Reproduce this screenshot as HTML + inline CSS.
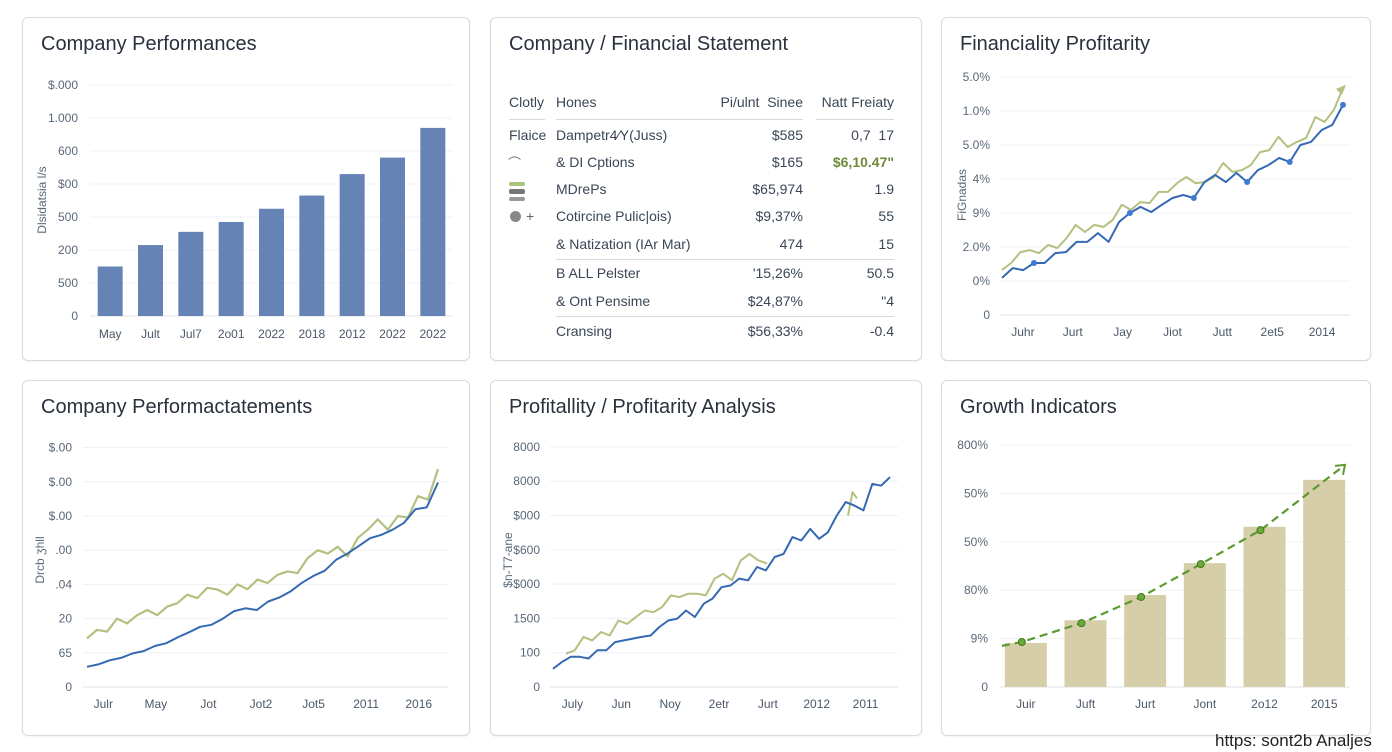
<!DOCTYPE html>
<html><head><meta charset="utf-8">
<style>
html,body{margin:0;padding:0;background:#fff;width:1392px;height:752px;overflow:hidden;font-family:"Liberation Sans",sans-serif;}
.panel{position:absolute;border:1px solid #d6dbe1;border-radius:6px;background:#fff;box-shadow:0 1px 2px rgba(0,0,0,0.05);box-sizing:border-box;}
.title{position:absolute;font-size:20px;color:#28313d;white-space:nowrap;}
.t{position:absolute;font-size:14px;color:#3a4656;white-space:nowrap;}
.r{text-align:right;}
.hl{position:absolute;height:1px;background:#d4d9df;}
#chart{position:absolute;left:0;top:0;}
</style></head><body>
<div class="panel" style="left:22px;top:17px;width:448px;height:344px"></div>
<div class="panel" style="left:490px;top:17px;width:432px;height:344px"></div>
<div class="panel" style="left:941px;top:17px;width:430px;height:344px"></div>
<div class="panel" style="left:22px;top:380px;width:448px;height:356px"></div>
<div class="panel" style="left:490px;top:380px;width:432px;height:356px"></div>
<div class="panel" style="left:941px;top:380px;width:430px;height:356px"></div>

<div class="title" style="left:41px;top:33px">Company Performances</div>
<div class="title" style="left:509px;top:33px">Company / Financial Statement</div>
<div class="title" style="left:960px;top:33px">Financiality Profitarity</div>
<div class="title" style="left:41px;top:396px">Company Performactatements</div>
<div class="title" style="left:509px;top:396px">Profitallity / Profitarity Analysis</div>
<div class="title" style="left:960px;top:396px">Growth Indicators</div>

<!-- table -->
<div>
<div class="t" style="left:509px;top:94px">Clotly</div>
<div class="t" style="left:556px;top:94px">Hones</div>
<div class="t r" style="left:690px;width:113px;top:94px">Pi/ulnt &nbsp;Sinee</div>
<div class="t r" style="left:800px;width:94px;top:94px">Natt Freiaty</div>
<div class="hl" style="left:509px;top:119px;width:36px"></div>
<div class="hl" style="left:556px;top:119px;width:247px"></div>
<div class="hl" style="left:816px;top:119px;width:78px"></div>

<div class="t" style="left:509px;top:127px">Flaice</div>
<div class="t" style="left:556px;top:127px">Dampetr4⁄Y(Juss)</div>
<div class="t r" style="left:700px;width:103px;top:127px">$585</div>
<div class="t r" style="left:800px;width:94px;top:127px">0,7 &nbsp;17</div>

<div class="t" style="left:508px;top:153px;color:#777;font-size:13px">⌒</div>
<div class="t" style="left:556px;top:154px">&amp; DI Cptions</div>
<div class="t r" style="left:700px;width:103px;top:154px">$165</div>
<div class="t r" style="left:800px;width:94px;top:154px;color:#6f8a3a;font-weight:bold">$6,10.47"</div>

<div style="position:absolute;left:509px;top:182px;width:16px;height:4px;border-radius:2px;background:#a8c47a"></div>
<div style="position:absolute;left:509px;top:189px;width:16px;height:5px;border-radius:2px;background:#777"></div>
<div style="position:absolute;left:509px;top:197px;width:16px;height:4px;border-radius:2px;background:#999"></div>
<div class="t" style="left:556px;top:181px">MDrePs</div>
<div class="t r" style="left:700px;width:103px;top:181px">$65,974</div>
<div class="t r" style="left:800px;width:94px;top:181px">1.9</div>

<div style="position:absolute;left:510px;top:211px;width:11px;height:11px;border-radius:50%;background:#888"></div>
<div class="t" style="left:526px;top:208px;color:#666">+</div>
<div class="t" style="left:556px;top:208px">Cotircine Pulic|ois)</div>
<div class="t r" style="left:700px;width:103px;top:208px">$9,37%</div>
<div class="t r" style="left:800px;width:94px;top:208px">55</div>

<div class="t" style="left:556px;top:236px">&amp; Natization (IAr Mar)</div>
<div class="t r" style="left:700px;width:103px;top:236px">474</div>
<div class="t r" style="left:800px;width:94px;top:236px">15</div>
<div class="hl" style="left:556px;top:259px;width:338px"></div>

<div class="t" style="left:556px;top:265px">B ALL Pelster</div>
<div class="t r" style="left:700px;width:103px;top:265px">'15,26%</div>
<div class="t r" style="left:800px;width:94px;top:265px">50.5</div>

<div class="t" style="left:556px;top:293px">&amp; Ont Pensime</div>
<div class="t r" style="left:700px;width:103px;top:293px">$24,87%</div>
<div class="t r" style="left:800px;width:94px;top:293px">"4</div>
<div class="hl" style="left:556px;top:316px;width:338px"></div>

<div class="t" style="left:556px;top:323px">Cransing</div>
<div class="t r" style="left:700px;width:103px;top:323px">$56,33%</div>
<div class="t r" style="left:800px;width:94px;top:323px">-0.4</div>
</div>

<div style="position:absolute;left:1215px;top:731px;font-size:17px;color:#222;white-space:nowrap">https: sont2b Analjes</div>

<svg id="chart" width="1392" height="752" xmlns="http://www.w3.org/2000/svg" font-family="Liberation Sans, sans-serif"></svg>

<script>
// ---- Chart 1: bars ----
const c1Cats = ["May","Jult","Jul7","2o01","2022","2018","2012","2022","2022"];
const c1Vals = [1.5,2.15,2.55,2.85,3.25,3.65,4.3,4.8,5.7];
const c1Ticks = ["0","500","200","500","$00","600","1.000","$.000"];
// ---- Chart 3: two lines ----
const c3Ticks = ["0","0%","2.0%","9%","4%","5.0%","1.0%","5.0%"];
const c3X = ["Juhr","Jurt","Jay","Jiot","Jutt","2et5","2014"];
const c3Blue = [1.09,1.38,1.32,1.53,1.53,1.82,1.85,2.15,2.15,2.41,2.15,2.74,3.0,3.18,3.03,3.24,3.44,3.53,3.44,3.91,4.12,3.91,4.18,3.91,4.26,4.41,4.62,4.5,5.0,5.09,5.44,5.59,6.18];
const c3Green = [1.32,1.53,1.85,1.91,1.82,2.06,1.97,2.26,2.65,2.44,2.65,2.59,2.79,3.24,3.09,3.32,3.29,3.62,3.62,3.88,4.06,3.88,3.91,4.06,4.47,4.21,4.26,4.41,4.79,4.85,5.24,4.94,5.09,5.21,5.82,5.68,6.03,6.68];
// ---- Chart 4 ----
const c4Ticks = ["0","65","20",".04",".00","$.00","$.00","$.00"];
const c4X = ["Julr","May","Jot","Jot2","Jot5","2011","2016"];
const c4Blue = [0.59,0.66,0.78,0.85,0.98,1.05,1.2,1.28,1.45,1.6,1.76,1.82,2.0,2.22,2.3,2.25,2.5,2.62,2.8,3.05,3.25,3.4,3.72,3.9,4.12,4.35,4.45,4.6,4.8,5.2,5.25,5.98];
const c4Green = [1.42,1.67,1.62,2.0,1.86,2.1,2.25,2.1,2.35,2.45,2.7,2.6,2.9,2.85,2.7,3.0,2.86,3.14,3.04,3.28,3.38,3.33,3.77,4.0,3.9,4.1,3.82,4.36,4.6,4.9,4.6,5.0,4.95,5.58,5.48,6.37];
// ---- Chart 5 ----
const c5Ticks = ["0","100","1500","$000","$600","$000","8000","8000"];
const c5X = ["July","Jun","Noy","2etr","Jurt","2012","2011"];
const c5Blue = [0.53,0.73,0.88,0.88,0.83,1.07,1.07,1.31,1.36,1.41,1.46,1.5,1.75,1.94,1.99,2.23,2.04,2.43,2.58,2.91,2.96,3.16,3.11,3.5,3.4,3.79,3.88,4.37,4.27,4.61,4.32,4.51,5.0,5.39,5.29,5.15,5.92,5.87,6.12];
const c5Green = [0.97,1.07,1.46,1.36,1.6,1.5,1.94,1.84,2.04,2.23,2.18,2.33,2.67,2.62,2.72,2.72,2.67,3.16,3.3,3.11,3.69,3.88,3.69,3.6];
const c5Spike = [5.0,5.68,5.5];
// ---- Chart 6 ----
const c6Cats = ["Juir","Juft","Jurt","Jont","2o12","2015"];
const c6Vals = [0.91,1.38,1.9,2.56,3.31,4.28];
const c6Trend = [0.93,1.32,1.86,2.54,3.24];
const c6TrendEnd = 4.59;
const c6Ticks = ["0","9%","80%","50%","50%","800%"];

const svg = document.getElementById('chart');
const NS = "http://www.w3.org/2000/svg";
function mk(tag, attrs, parent){const e=document.createElementNS(NS,tag);for(const k in attrs)e.setAttribute(k,attrs[k]);(parent||svg).appendChild(e);return e;}
function txt(x,y,s,anchor,size,color){const e=mk('text',{x:x,y:y,'text-anchor':anchor,'font-size':size,fill:color});e.textContent=s;return e;}

function axes(g, ticks, yScale, x0, x1, labelX, size){
  ticks.forEach((t,i)=>{
    const y=yScale(i);
    const l=mk('line',{x1:x0,x2:x1,y1:y,y2:y,stroke:i===0?'#dde1e6':'#eef0f3','stroke-width':1},g);
    
    
    const tx=txt(labelX,y+4,t,'end',size||12,'#5a6878');
    
    
  });
}
function xlabels(labels, x0, x1, y){
  const n=labels.length;
  labels.forEach((s,i)=>{
    const x=x0+(x1-x0)*(i+0.5)/n;
    const t=txt(x,y,s,'middle',12,'#4a5868');
    
    
  });
}
function ytitle(x,y,s){
  const t=txt(x,y,s,'middle',12,'#5a6878');
  t.setAttribute('transform','rotate(-90 '+x+' '+y+')');
  
  
}
function line(vals, x0, x1, yScale, color, w, name){
  const n=vals.length;
  const pts=vals.map((v,i)=>(x0+(x1-x0)*i/(n-1)).toFixed(1)+','+yScale(v).toFixed(1)).join(' ');
  const p=mk('polyline',{points:pts,fill:'none',stroke:color,'stroke-width':w,'stroke-linejoin':'round'});
  
  
  return p;
}

// Chart 1
(function(){
  const y=v=>316-v*33;
  axes(svg,c1Ticks,y,90,452,78,12);
  const x0=90,x1=453,n=c1Cats.length,bw=25;
  c1Vals.forEach((v,i)=>{
    const cx=x0+(x1-x0)*(i+0.5)/n;
    const r=mk('rect',{x:cx-bw/2,y:y(v),width:bw,height:316-y(v),fill:'#6683b5'});
    
    
  });
  xlabels(c1Cats,x0,x1,338);
  ytitle(46,200,'Dlsidatsia Ɩ/s');
})();

// Chart 3
(function(){
  const y=v=>315-v*34;
  axes(svg,c3Ticks,y,1000,1350,990,12);
  xlabels(c3X,998,1347,336);
  line(c3Green,1002,1343,y,'#b3c07f',2,'series-green-line');
  line(c3Blue,1002,1343,y,'#3569b3',2,'series-blue-line');
  const ex=1343, ey=y(c3Green[c3Green.length-1]);
  const a=mk('polygon',{points:(ex+3)+','+(ey-3)+' '+(ex-7)+','+(ey+1)+' '+(ex-1)+','+(ey+7),fill:'#b3c07f'});
  
  
  [0.09,0.36,0.55,0.73,0.83,1].forEach(f=>{
    const i=Math.round(f*(c3Blue.length-1));
    const m=mk('circle',{cx:1002+341*i/(c3Blue.length-1),cy:y(c3Blue[i]),r:3,fill:'#3f7ad0'});
    
    
  });
  ytitle(966,195,'FiGnadas');
})();

// Chart 4
(function(){
  const y=v=>687-v*34.2;
  axes(svg,c4Ticks,y,83,448,72,12);
  xlabels(c4X,77,445,708);
  line(c4Green,87,438,y,'#b3c07f',2.2,'series-green-line');
  line(c4Blue,87,438,y,'#3569b3',2,'series-blue-line');
  ytitle(44,560,'Drcb   ʒhll');
})();

// Chart 5
(function(){
  const y=v=>687-v*34.3;
  axes(svg,c5Ticks,y,550,898,540,12);
  xlabels(c5X,548,890,708);
  line(c5Green,566,767,y,'#b3c07f',2,'series-green-line');
  line(c5Spike,848,857,y,'#b3c07f',2,'series-green-spike');
  line(c5Blue,553,890,y,'#3569b3',2,'series-blue-line');
  ytitle(512,560,'$n-T7-ane');
})();

// Chart 6
(function(){
  const y=v=>687-v*48.4;
  axes(svg,c6Ticks,y,1000,1350,988,12);
  const x0=996,x1=1354,n=c6Cats.length,bw=42;
  const cxs=[];
  c6Vals.forEach((v,i)=>{
    const cx=x0+(x1-x0)*(i+0.5)/n; cxs.push(cx);
    const r=mk('rect',{x:cx-bw/2,y:y(v),width:bw,height:687-y(v),fill:'#d6cea8'});
    
    
  });
  xlabels(c6Cats,x0,x1,708);
  const pts=[[1002,y(c6Trend[0]-0.08)]];
  c6Trend.forEach((v,i)=>pts.push([cxs[i]-4,y(v)]));
  pts.push([1345,y(c6TrendEnd)]);
  const path=mk('polyline',{points:pts.map(p=>p.join(',')).join(' '),fill:'none',stroke:'#5a9a2e','stroke-width':2.2,'stroke-dasharray':'8,5','stroke-linejoin':'round'});
  
  
  c6Trend.forEach((v,i)=>{
    const c=mk('circle',{cx:cxs[i]-4,cy:y(v),r:3.5,fill:'#6aaa3a',stroke:'#3f7a1e','stroke-width':1});
    
    
  });
  const ex=1345,ey=y(c6TrendEnd);
  const a=mk('polyline',{points:(ex-10)+','+(ey+1)+' '+ex+','+ey+' '+(ex-2)+','+(ey+10),fill:'none',stroke:'#5a9a2e','stroke-width':2});
  
  
})();
</script>
</body></html>
